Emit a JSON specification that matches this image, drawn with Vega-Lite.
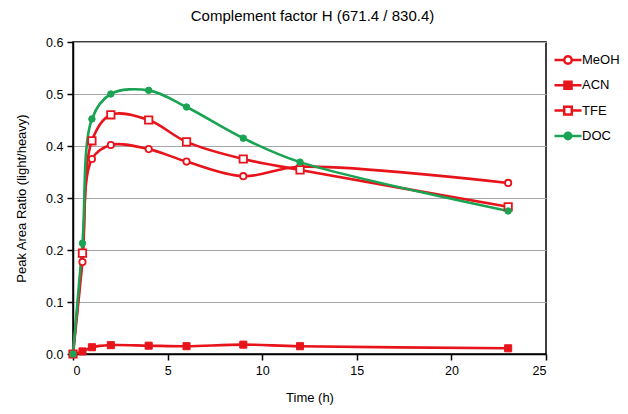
{
  "$schema": "https://vega.github.io/schema/vega-lite/v6.json",
  "autosize": {"type": "none"},
  "width": 473,
  "height": 312,
  "padding": {"left": 73, "top": 42, "right": 82, "bottom": 60},
  "background": "white",
  "title": {"text": "Complement factor H (671.4 / 830.4)", "font": "Liberation Sans", "fontSize": 15, "fontWeight": "normal", "color": "#000000", "offset": 12, "anchor": "middle", "dx": 3},
  "config": {
    "font": "Liberation Sans",
    "view": {"stroke": "#000000", "strokeWidth": 1.5},
    "axis": {"labelFont": "Liberation Sans", "titleFont": "Liberation Sans", "labelColor": "#000000", "titleColor": "#000000", "labelFontSize": 12.5, "titleFontSize": 13, "titleFontWeight": "normal", "domainColor": "#000000", "domainWidth": 1.5, "tickColor": "#000000", "tickWidth": 1.5, "tickSize": 6, "gridColor": "#a6a6a6", "gridWidth": 1.2, "gridOpacity": 1},
    "legend": {"orient": "none", "legendX": 480, "legendY": 3, "title": null, "symbolSize": 729, "symbolStrokeWidth": 2.5, "labelFontSize": 13, "labelFont": "Liberation Sans", "labelColor": "#000000", "labelOffset": -1, "rowPadding": 1.3, "symbolOpacity": 1}
  },
  "data": {"values": [
    {"t": 0, "v": 0, "s": "MeOH"}, {"t": 0.5, "v": 0.177, "s": "MeOH"}, {"t": 1, "v": 0.375, "s": "MeOH"}, {"t": 2, "v": 0.402, "s": "MeOH"}, {"t": 4, "v": 0.394, "s": "MeOH"}, {"t": 6, "v": 0.37, "s": "MeOH"}, {"t": 9, "v": 0.342, "s": "MeOH"}, {"t": 12, "v": 0.36, "s": "MeOH"}, {"t": 23, "v": 0.329, "s": "MeOH"},
    {"t": 0, "v": 0, "s": "ACN"}, {"t": 0.5, "v": 0.005, "s": "ACN"}, {"t": 1, "v": 0.013, "s": "ACN"}, {"t": 2, "v": 0.017, "s": "ACN"}, {"t": 4, "v": 0.016, "s": "ACN"}, {"t": 6, "v": 0.015, "s": "ACN"}, {"t": 9, "v": 0.018, "s": "ACN"}, {"t": 12, "v": 0.015, "s": "ACN"}, {"t": 23, "v": 0.011, "s": "ACN"},
    {"t": 0, "v": 0, "s": "TFE"}, {"t": 0.5, "v": 0.194, "s": "TFE"}, {"t": 1, "v": 0.41, "s": "TFE"}, {"t": 2, "v": 0.46, "s": "TFE"}, {"t": 4, "v": 0.45, "s": "TFE"}, {"t": 6, "v": 0.408, "s": "TFE"}, {"t": 9, "v": 0.375, "s": "TFE"}, {"t": 12, "v": 0.354, "s": "TFE"}, {"t": 23, "v": 0.283, "s": "TFE"},
    {"t": 0, "v": 0, "s": "DOC"}, {"t": 0.5, "v": 0.213, "s": "DOC"}, {"t": 1, "v": 0.452, "s": "DOC"}, {"t": 2, "v": 0.5, "s": "DOC"}, {"t": 4, "v": 0.507, "s": "DOC"}, {"t": 6, "v": 0.475, "s": "DOC"}, {"t": 9, "v": 0.415, "s": "DOC"}, {"t": 12, "v": 0.369, "s": "DOC"}, {"t": 23, "v": 0.275, "s": "DOC"}
  ]},
  "encoding": {
    "x": {"field": "t", "type": "quantitative", "scale": {"domain": [0, 25], "nice": false, "zero": false}, "axis": {"title": "Time (h)", "values": [0, 5, 10, 15, 20, 25], "grid": false, "titlePadding": 15, "labelPadding": 4}},
    "y": {"field": "v", "type": "quantitative", "scale": {"domain": [0, 0.6], "nice": false}, "axis": {"title": "Peak Area Ratio (light/heavy)", "values": [0, 0.1, 0.2, 0.3, 0.4, 0.5, 0.6], "format": ".1f", "grid": true, "titlePadding": 17, "labelPadding": 4}}
  },
  "layer": [
    {
      "mark": {"type": "line", "interpolate": "catmull-rom", "strokeWidth": 2.6},
      "encoding": {
        "stroke": {"field": "s", "type": "nominal", "scale": {"domain": ["MeOH", "ACN", "TFE", "DOC"], "range": ["#e8141c", "#e8141c", "#e8141c", "#1aa353"]},
          "legend": {"encode": {"symbols": {"update": {
            "shape": {"signal": "datum.value==='MeOH' ? 'M-1,0H-0.28M0.28,0H1M-0.28,0A0.28,0.28 0 1,1 0.28,0A0.28,0.28 0 1,1 -0.28,0Z' : datum.value==='TFE' ? 'M-1,0H-0.28M0.28,0H1M-0.28,-0.28H0.28V0.28H-0.28Z' : datum.value==='ACN' ? 'M-1,0H1M-0.26,-0.26H0.26V0.26H-0.26Z' : 'M-1,0H1M-0.24,0A0.24,0.24 0 1,1 0.24,0A0.24,0.24 0 1,1 -0.24,0Z'"},
            "fill": {"signal": "datum.value==='ACN' ? '#e8141c' : datum.value==='DOC' ? '#1aa353' : '#ffffff'"},
            "fillOpacity": {"value": 1},
            "strokeWidth": {"value": 2.5}
          }}}}},
        "order": {"field": "t", "type": "quantitative"},
        "detail": {"field": "s"}
      }
    },
    {
      "transform": [{"filter": {"field": "s", "equal": "MeOH"}}],
      "mark": {"type": "point", "shape": "circle", "size": 40, "filled": false, "fill": "#ffffff", "fillOpacity": 1, "stroke": "#e8141c", "opacity": 1, "strokeWidth": 1.8}
    },
    {
      "transform": [{"filter": {"field": "s", "equal": "ACN"}}],
      "mark": {"type": "point", "shape": "square", "size": 50, "filled": true, "fill": "#e8141c", "fillOpacity": 1, "stroke": "#e8141c", "opacity": 1, "strokeWidth": 1}
    },
    {
      "transform": [{"filter": {"field": "s", "equal": "TFE"}}],
      "mark": {"type": "point", "shape": "square", "size": 55, "filled": false, "fill": "#ffffff", "fillOpacity": 1, "stroke": "#e8141c", "opacity": 1, "strokeWidth": 1.8}
    },
    {
      "transform": [{"filter": {"field": "s", "equal": "DOC"}}],
      "mark": {"type": "point", "shape": "circle", "size": 42, "filled": true, "fill": "#1aa353", "fillOpacity": 1, "stroke": "#1aa353", "opacity": 1, "strokeWidth": 1}
    }
  ]
}
